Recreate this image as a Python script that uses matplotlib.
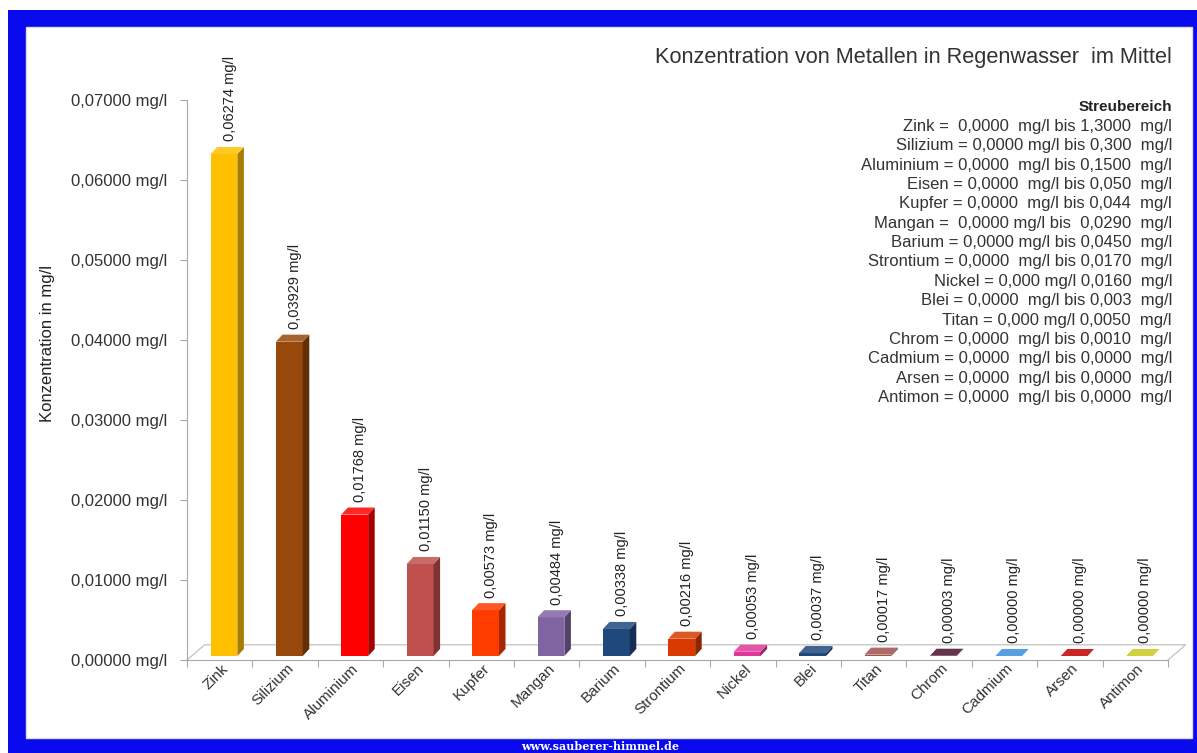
import matplotlib.pyplot as plt
import matplotlib.colors as mcolors
from matplotlib.patches import Polygon, Rectangle

plt.rcParams['font.family'] = ['Liberation Sans', 'DejaVu Sans']

# data
metalle = ['Zink', 'Silizium', 'Aluminium', 'Eisen', 'Kupfer', 'Mangan', 'Barium',
           'Strontium', 'Nickel', 'Blei', 'Titan', 'Chrom', 'Cadmium', 'Arsen', 'Antimon']
werte = [0.06274, 0.03929, 0.01768, 0.01150, 0.00573, 0.00484, 0.00338,
         0.00216, 0.00053, 0.00037, 0.00017, 0.00003, 0.00000, 0.00000, 0.00000]
farben = ['#FFC000', '#97480A', '#FF0000', '#C0504D', '#FF3C00', '#8064A2', '#1F497D',
          '#D83A00', '#E0389A', '#1F497D', '#A0504D', '#4A0F2A', '#3A8DDE', '#C00000', '#C8C820']
streubereich = [
    'Zink =  0,0000  mg/l bis 1,3000  mg/l',
    'Silizium = 0,0000 mg/l bis 0,300  mg/l',
    'Aluminium = 0,0000  mg/l bis 0,1500  mg/l',
    'Eisen = 0,0000  mg/l bis 0,050  mg/l',
    'Kupfer = 0,0000  mg/l bis 0,044  mg/l',
    'Mangan =  0,0000 mg/l bis  0,0290  mg/l',
    'Barium = 0,0000 mg/l bis 0,0450  mg/l',
    'Strontium = 0,0000  mg/l bis 0,0170  mg/l',
    'Nickel = 0,000 mg/l 0,0160  mg/l',
    'Blei = 0,0000  mg/l bis 0,003  mg/l',
    'Titan = 0,000 mg/l 0,0050  mg/l',
    'Chrom = 0,0000  mg/l bis 0,0010  mg/l',
    'Cadmium = 0,0000  mg/l bis 0,0000  mg/l',
    'Arsen = 0,0000  mg/l bis 0,0000  mg/l',
    'Antimon = 0,0000  mg/l bis 0,0000  mg/l',
]
y_ticks = [0.0, 0.01, 0.02, 0.03, 0.04, 0.05, 0.06, 0.07]


def shade(c, f):
    r, g, b = mcolors.to_rgb(c)
    if f < 1:
        return (r * f, g * f, b * f)
    return (r + (1 - r) * (f - 1), g + (1 - g) * (f - 1), b + (1 - b) * (f - 1))


fig = plt.figure(figsize=(11.97, 7.53), dpi=100, facecolor='white')

# blue frame with white panel
fig.patches.append(Rectangle((8 / 1197, 0), 1 - 8 / 1197, 1 - 10 / 753, transform=fig.transFigure,
                             facecolor='#0A0AEE', edgecolor='none', zorder=0))
fig.patches.append(Rectangle((26 / 1197, 15 / 753), (1192 - 26) / 1197, (738 - 27) / 753,
                             transform=fig.transFigure, facecolor='white', edgecolor='#DDDDDD',
                             linewidth=1, zorder=0))

ax = fig.add_axes([187 / 1197, 1 - 660 / 753, (1168 - 187) / 1197, 560 / 753])
ax.set_zorder(2)
ax.set_facecolor('none')
ax.set_xlim(-0.5, len(metalle) - 0.5)
ax.set_ylim(0, 0.07)

# 3d-ish geometry (in data units)
x0, x1 = -0.14, 0.27      # front face relative to slot centre
dx, dy = 0.10, 0.00088    # depth offset of side/top
base = 0.0005
fdx, fdy = 0.27, 0.0019   # floor depth
n = len(metalle)

grau = '#A8A8A8'
ax.plot([-0.5, -0.5 + fdx, n - 0.5 + fdx, n - 0.5], [0, fdy, fdy, 0], color='#C8C8C8',
        lw=1, zorder=1, clip_on=False)

for i, (v, c) in enumerate(zip(werte, farben)):
    l, r = i + x0, i + x1
    top = base + v
    ax.add_patch(Polygon([(l, base), (r, base), (r, top), (l, top)], closed=True,
                         facecolor=c, edgecolor='none', zorder=3))
    ax.add_patch(Polygon([(r, base), (r + dx, base + dy), (r + dx, top + dy), (r, top)],
                         closed=True, facecolor=shade(c, 0.65), edgecolor='none', zorder=3))
    ax.add_patch(Polygon([(l, top), (r, top), (r + dx, top + dy), (l + dx, top + dy)],
                         closed=True, facecolor=shade(c, 1.15), edgecolor='none', zorder=3))
    lab = f'{v:.5f}'.replace('.', ',') + ' mg/l'
    ax.annotate(lab, (i + 0.15, top + dy), xytext=(0, 4), textcoords='offset points',
                rotation=90, ha='center', va='bottom', fontsize=10.5, color='#222222',
                clip_on=False)

# axes styling
for s in ['top', 'right']:
    ax.spines[s].set_visible(False)
ax.spines['left'].set_color(grau)
ax.spines['bottom'].set_color(grau)
ax.set_yticks(y_ticks)
ax.set_yticklabels([f'{t:.5f}'.replace('.', ',') + ' mg/l' for t in y_ticks])
ax.tick_params(axis='y', length=5, color=grau, labelsize=12, labelcolor='#333333', pad=9)
ax.set_xticks([i - 0.5 for i in range(n + 1)])
ax.set_xticklabels([])
ax.tick_params(axis='x', which='major', length=5, color=grau)
ax.set_xticks([i + 0.02 for i in range(n)], minor=True)
ax.set_xticklabels(metalle, minor=True, rotation=45, ha='right', va='top',
                   rotation_mode='anchor', fontsize=11, color='#333333')
ax.tick_params(axis='x', which='minor', length=0, pad=1)

fig.text(48 / 1197, 1 - 343 / 753, 'Konzentration in mg/l', rotation=90, ha='center',
         va='center', fontsize=12, color='#222222')

# title and range box
fig.text(1172 / 1197, 1 - 58 / 753, 'Konzentration von Metallen in Regenwasser  im Mittel',
         ha='right', va='center', fontsize=15.7, color='#333333')
fig.text(1172 / 1197, 1 - 107 / 753, 'Streubereich', ha='right', va='center',
         fontsize=11, fontweight='bold', color='#222222')
for k, s in enumerate(streubereich):
    fig.text(1172 / 1197, 1 - (126.5 + k * 19.35) / 753, s, ha='right', va='center',
             fontsize=12, color='#333333')

fig.text(600 / 1197, 1 - 746 / 753, 'www.sauberer-himmel.de', ha='center', va='center',
         fontsize=8, color='white', family='DejaVu Serif', fontweight='bold')

fig.savefig('out.png', dpi=100)
